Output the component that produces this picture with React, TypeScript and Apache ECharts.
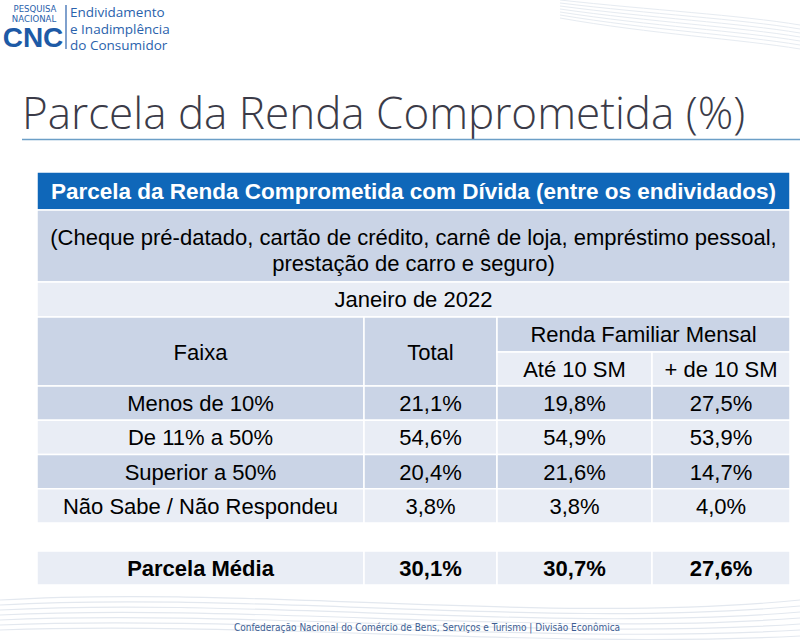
import React, { useEffect, useRef } from "react";
import * as echarts from "echarts";

const headerTitle = "Parcela da Renda Comprometida com Dívida (entre os endividados)";
const subtitleLines = [
  "(Cheque pré-datado, cartão de crédito, carnê de loja, empréstimo pessoal,",
  "prestação de carro e seguro)",
];
const periodLabel = "Janeiro de 2022";
const colHeaders = ["Faixa", "Total", "Renda Familiar Mensal"];
const subColHeaders = ["Até 10 SM", "+ de 10 SM"];
const categories = ["Menos de 10%", "De 11% a 50%", "Superior a 50%", "Não Sabe / Não Respondeu"];
const totalValues = ["21,1%", "54,6%", "20,4%", "3,8%"];
const ate10Values = ["19,8%", "54,9%", "21,6%", "3,8%"];
const mais10Values = ["27,5%", "53,9%", "14,7%", "4,0%"];
const mediaLabel = "Parcela Média";
const mediaValues = ["30,1%", "30,7%", "27,6%"];

const pageTitle = "Parcela da Renda Comprometida (%)";
const footerText = "Confederação Nacional do Comércio de Bens, Serviços e Turismo | Divisão Econômica";

export default function App() {
  const ref = useRef<HTMLDivElement>(null);
  useEffect(() => {
    if (!ref.current) return;
    const chart = echarts.init(ref.current, null, { renderer: "svg" });
    const BLUE = "#0f67b9";
    const DARK = "#cad4e6";
    const LIGHT = "#e9edf5";
    const FONT = "'Liberation Sans', Arial, sans-serif";
    const cols = [37, 364, 497, 652, 790];
    const els: any[] = [];
    const rect = (x0: number, y0: number, x1: number, y1: number, fill: string) =>
      els.push({ type: "rect", shape: { x: x0, y: y0, width: x1 - x0, height: y1 - y0 }, style: { fill, stroke: "#ffffff", lineWidth: 1.5 } });
    const txt = (x: number, y: number, text: string, size = 22, weight: any = "normal", fill = "#000", align = "center") =>
      els.push({ type: "text", x, y, style: { text, fill, font: `${weight} ${size}px ${FONT}`, align, verticalAlign: "middle" } });

    // background swooshes
    for (let i = 0; i < 7; i++) {
      els.push({ type: "bezierCurve", shape: { x1: 0, y1: 600 + i * 5, cpx1: 250, cpy1: 585 + i * 6, cpx2: 550, cpy2: 625 + i * 4, x2: 800, y2: 600 + i * 6 }, style: { stroke: "#e3e8ef", lineWidth: 1.2, fill: null } });
      els.push({ type: "bezierCurve", shape: { x1: 560, y1: 0 + i * 3, cpx1: 650, cpy1: 10 + i * 4, cpx2: 740, cpy2: 15 + i * 4, x2: 800, y2: 25 + i * 4 }, style: { stroke: "#e6ebf1", lineWidth: 1, fill: null } });
    }

    // logo
    els.push({ type: "text", x: 35, y: 8, style: { text: "PESQUISA", fill: "#2a62ac", font: `9.5px 'DejaVu Sans Condensed', ${FONT}`, align: "center", verticalAlign: "middle" } });
    els.push({ type: "text", x: 34, y: 18, style: { text: "NACIONAL", fill: "#2a62ac", font: `9.5px 'DejaVu Sans Condensed', ${FONT}`, align: "center", verticalAlign: "middle" } });
    els.push({ type: "text", x: 33, y: 37.5, style: { text: "CNC", fill: "#1d5aa6", font: `bold 28px ${FONT}`, align: "center", verticalAlign: "middle" } });
    els.push({ type: "line", shape: { x1: 66, y1: 5, x2: 66, y2: 49 }, style: { stroke: "#2a62ac", lineWidth: 1.2 } });
    ["Endividamento", "e Inadimplência", "do Consumidor"].forEach((t, i) =>
      els.push({ type: "text", x: 70, y: 12 + i * 16.5, style: { text: t, fill: "#2a62ac", font: `13.5px 'Open Sans', 'DejaVu Sans', sans-serif`, align: "left", verticalAlign: "middle" } })
    );

    // title
    els.push({ type: "text", x: 22, y: 112, style: { text: pageTitle, fill: "#3b3b48", font: `300 44px 'Open Sans', 'DejaVu Sans', sans-serif`, align: "left", verticalAlign: "middle" } });
    els.push({ type: "line", shape: { x1: 22, y1: 139.5, x2: 800, y2: 139.5 }, style: { stroke: "#6c9fc7", lineWidth: 1.5 } });

    // table
    rect(cols[0], 172, cols[4], 210, BLUE);
    txt((cols[0] + cols[4]) / 2, 191, headerTitle, 22.5, "bold", "#ffffff");
    rect(cols[0], 210, cols[4], 282, DARK);
    txt((cols[0] + cols[4]) / 2, 237, subtitleLines[0]);
    txt((cols[0] + cols[4]) / 2, 263, subtitleLines[1]);
    rect(cols[0], 282, cols[4], 317, LIGHT);
    txt((cols[0] + cols[4]) / 2, 299.5, periodLabel);
    rect(cols[0], 317, cols[1], 386, DARK);
    txt((cols[0] + cols[1]) / 2, 352, colHeaders[0]);
    rect(cols[1], 317, cols[2], 386, DARK);
    txt((cols[1] + cols[2]) / 2, 352, colHeaders[1]);
    rect(cols[2], 317, cols[4], 352, DARK);
    txt((cols[2] + cols[4]) / 2, 334.5, colHeaders[2]);
    rect(cols[2], 352, cols[3], 386, LIGHT);
    txt((cols[2] + cols[3]) / 2, 369, subColHeaders[0]);
    rect(cols[3], 352, cols[4], 386, LIGHT);
    txt((cols[3] + cols[4]) / 2, 369, subColHeaders[1]);

    const rowH = 34.25;
    categories.forEach((c, i) => {
      const y0 = 386 + i * rowH;
      const y1 = y0 + rowH;
      const fill = i % 2 === 0 ? DARK : LIGHT;
      const vals = [c, totalValues[i], ate10Values[i], mais10Values[i]];
      vals.forEach((v, j) => {
        rect(cols[j], y0, cols[j + 1], y1, fill);
        txt((cols[j] + cols[j + 1]) / 2, (y0 + y1) / 2 + 0.5, v);
      });
    });

    const mv = [mediaLabel, ...mediaValues];
    mv.forEach((v, j) => {
      rect(cols[j], 551, cols[j + 1], 585, LIGHT);
      txt((cols[j] + cols[j + 1]) / 2, 568.5, v, 22, "bold");
    });

    // footer
    els.push({ type: "text", x: 427, y: 627, style: { text: footerText, fill: "#3d5e93", font: `10px 'DejaVu Sans Condensed', 'DejaVu Sans', sans-serif`, align: "center", verticalAlign: "middle" } });

    chart.setOption({ animation: false, backgroundColor: "#ffffff", graphic: { elements: els } });
    return () => chart.dispose();
  }, []);
  return <div ref={ref} style={{ position: "absolute", left: 0, top: 0, width: 800, height: 643 }} />;
}
